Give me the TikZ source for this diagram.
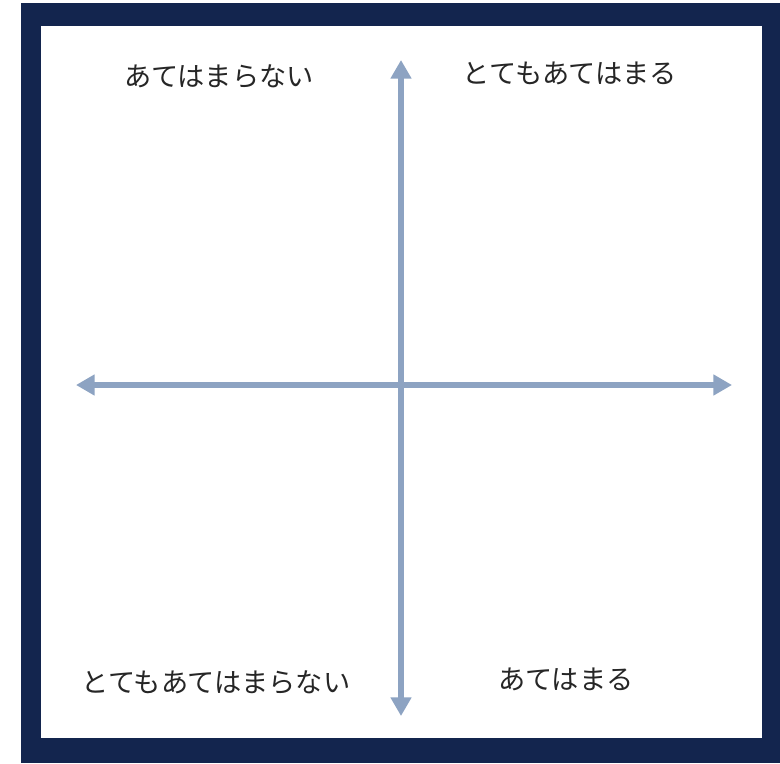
\documentclass[tikz,border=0pt]{standalone}
\usepackage{fontspec}
\newfontfamily\jpfont{Noto Sans CJK JP}
\usetikzlibrary{arrows.meta}
\definecolor{framenavy}{HTML}{13254E}
\definecolor{axisblue}{HTML}{8DA3C2}

\begin{document}
\begin{tikzpicture}[x=0.75pt,y=-0.75pt,
    axis/.style={axisblue,line width=4.5pt,
      {Triangle[width=15pt,length=14pt]}-{Triangle[width=15pt,length=14pt]}},
    quad/.style={font=\jpfont\fontsize{20.4}{24}\selectfont,text=black!85}]
            \useasboundingbox (0,0) rectangle (780,763);
            \fill[framenavy] (21,3) rectangle (780,763);
            \fill[white] (41,26) rectangle (762,738);

            \coordinate (T) at (401,60);
            \coordinate (B) at (401,716);
            \coordinate (L) at (76,385);
            \coordinate (R) at (732,385);

            \draw[axis] (B)--(T);
            \draw[axis] (L)--(R);

            \node[quad] (nw) at (219,76) {あてはまらない};
            \node[quad] (ne) at (570,73) {とてもあてはまる};
            \node[quad] (sw) at (216,682) {とてもあてはまらない};
            \node[quad] (se) at (566,679) {あてはまる};
        \end{tikzpicture}
\end{document}
